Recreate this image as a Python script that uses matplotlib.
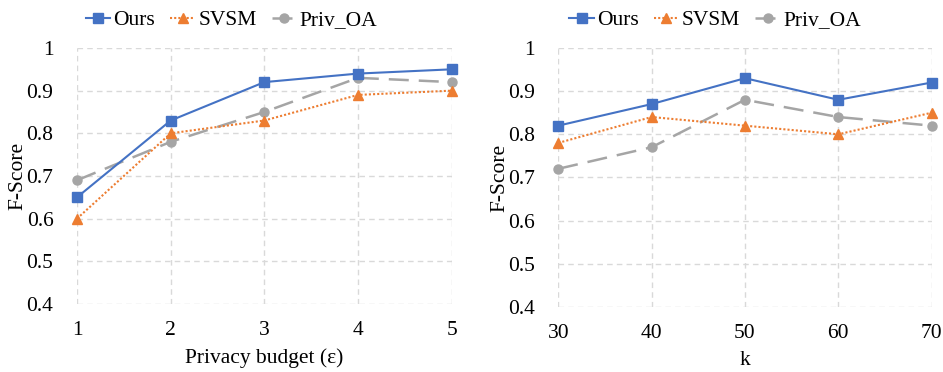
import matplotlib
matplotlib.use("Agg")
import matplotlib.pyplot as plt

plt.rcParams['font.family'] = ['Liberation Serif', 'DejaVu Serif']

eps = [1, 2, 3, 4, 5]
ours_eps = [0.65, 0.83, 0.92, 0.94, 0.95]
svsm_eps = [0.60, 0.80, 0.83, 0.89, 0.90]
priv_eps = [0.69, 0.78, 0.85, 0.93, 0.92]

k_vals = [30, 40, 50, 60, 70]
ours_k = [0.82, 0.87, 0.93, 0.88, 0.92]
svsm_k = [0.78, 0.84, 0.82, 0.80, 0.85]
priv_k = [0.72, 0.77, 0.88, 0.84, 0.82]

yticks = [0.4, 0.5, 0.6, 0.7, 0.8, 0.9, 1.0]
ytick_labels = ['0.4', '0.5', '0.6', '0.7', '0.8', '0.9', '1']

BLUE = '#4472C4'
ORANGE = '#ED7D31'
GREY = '#A5A5A5'
FS = 15.5

fig = plt.figure(figsize=(9.43, 3.72), dpi=100)
ax1 = fig.add_axes([0.0817, 0.183, 0.3973, 0.688])
ax2 = fig.add_axes([0.592, 0.175, 0.396, 0.696])

def draw(ax, x, ours, svsm, priv, xlabel, leg_x):
    ax.plot(x, ours, color=BLUE, marker='s', markersize=6.5, linewidth=1.5,
            label='Ours', clip_on=False, zorder=5)
    ax.plot(x, svsm, color=ORANGE, marker='^', markersize=7.5, linewidth=1.5,
            linestyle=(0, (1, 1)), label='SVSM', clip_on=False, zorder=4)
    ax.plot(x, priv, color=GREY, marker='o', markersize=6.5, linewidth=1.8,
            linestyle=(0, (8, 4)), label='Priv_OA', clip_on=False, zorder=3)
    ax.set_xlim(x[0], x[-1])
    ax.set_ylim(0.4, 1.0)
    ax.set_xticks(x)
    ax.set_xticklabels([str(v) for v in x], fontsize=FS)
    ax.set_yticks(yticks)
    ax.set_yticklabels(ytick_labels, fontsize=FS)
    for s in ax.spines.values():
        s.set_visible(False)
    ax.tick_params(axis='x', length=0, pad=12)
    ax.tick_params(axis='y', length=0, pad=17)
    ax.grid(True, color='#D9D9D9', linestyle=(0, (4, 3)), linewidth=1)
    ax.set_axisbelow(True)
    ax.set_xlabel(xlabel, fontsize=FS, labelpad=6)
    ax.set_ylabel('F-Score', fontsize=FS, labelpad=-1)
    ax.legend(loc='lower center', bbox_to_anchor=(leg_x, 1.01), ncol=3,
              frameon=False, fontsize=FS, handlelength=1.15,
              handletextpad=0.15, columnspacing=0.7, borderaxespad=0.3)

draw(ax1, eps, ours_eps, svsm_eps, priv_eps, 'Privacy budget (ε)', 0.412)
draw(ax2, k_vals, ours_k, svsm_k, priv_k, 'k', 0.42)

fig.savefig('out.png', dpi=100)
